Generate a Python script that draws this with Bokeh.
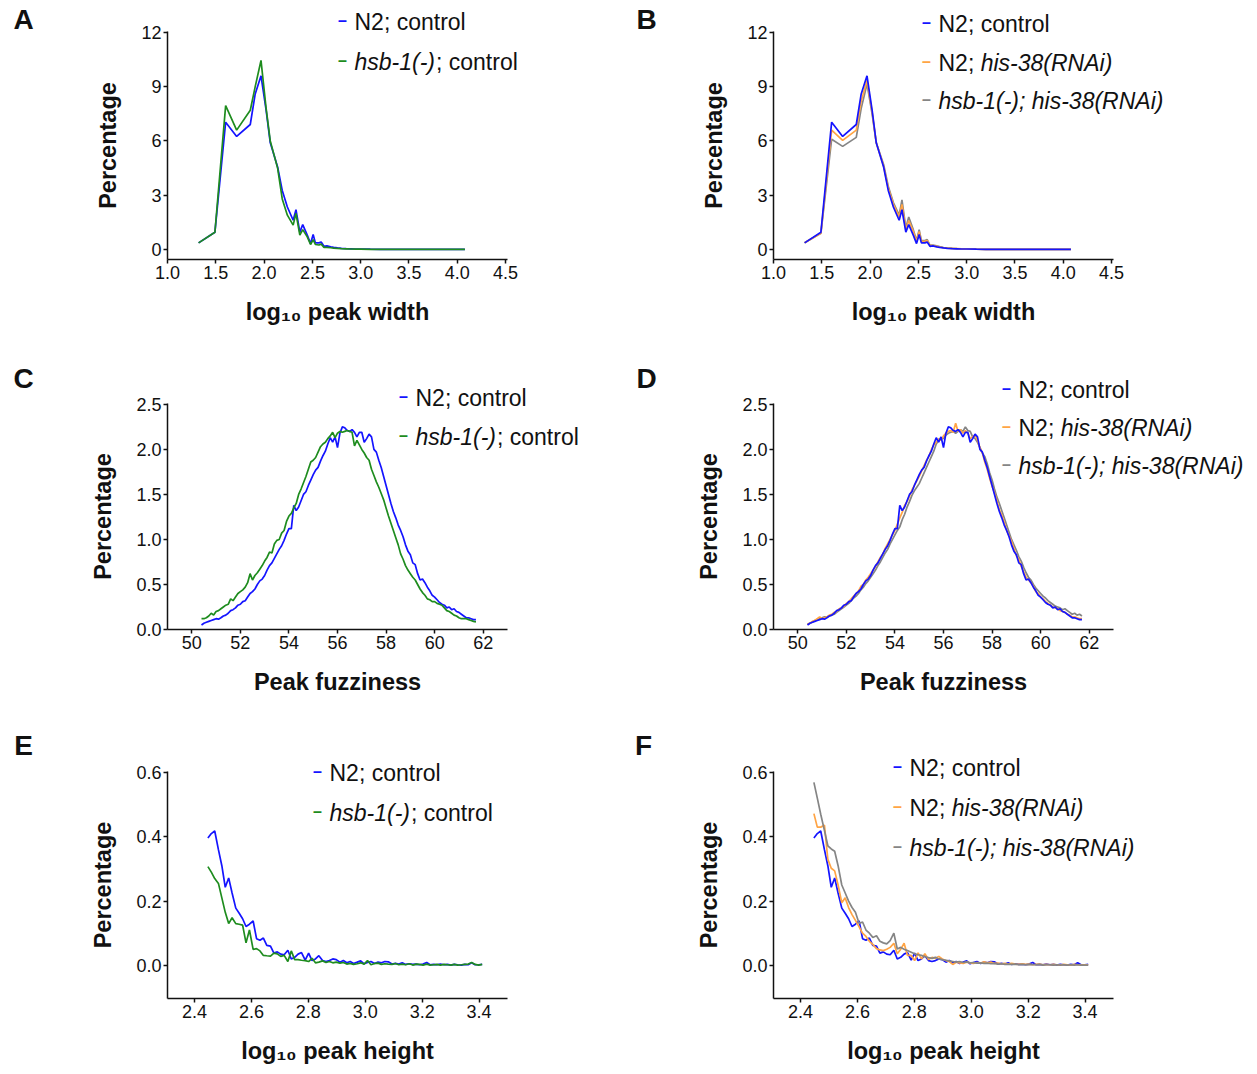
from bokeh.plotting import figure
from bokeh.models import Label, FixedTicker, Range1d, PrintfTickFormatter
from bokeh.layouts import column, row
from bokeh.embed import file_html
from bokeh.resources import INLINE

FONT = "Liberation Sans"
BLUE = "#1414ff"
GREEN = "#1e8c1e"
ORANGE = "#ffa445"
GRAY = "#858585"

# ---------------- data: peak width (A, B) ----------------
XW = [1.322, 1.491, 1.602, 1.716, 1.857, 1.908, 1.968, 2.021, 2.064, 2.140,
      2.188, 2.241, 2.301, 2.330, 2.370, 2.400, 2.447, 2.481, 2.508, 2.531,
      2.568, 2.591, 2.620, 2.650, 2.690, 2.720, 2.760, 2.800, 2.850, 2.900,
      2.950, 3.000, 3.100, 3.200, 3.300, 3.400, 3.500, 3.600, 3.700, 3.800,
      3.900, 4.000, 4.079]
W_N2_CTRL = [0.37, 0.96, 7.04, 6.25, 6.91, 8.60, 9.60, 7.70, 5.90, 4.56,
             3.27, 2.35, 1.62, 2.20, 0.96, 1.38, 0.80, 0.33, 0.83, 0.37,
             0.37, 0.42, 0.18, 0.20, 0.15, 0.12, 0.09, 0.07, 0.05, 0.04,
             0.03, 0.03, 0.02, 0.015, 0.01, 0.01, 0.01, 0.005, 0.005, 0.005,
             0.005, 0.005, 0.005]
W_HSB_CTRL = [0.37, 0.96, 7.95, 6.60, 7.70, 9.00, 10.45, 7.80, 6.00, 4.50,
              2.80, 1.90, 1.35, 2.00, 0.80, 1.10, 0.70, 0.28, 0.55, 0.28,
              0.25, 0.30, 0.12, 0.12, 0.10, 0.08, 0.06, 0.05, 0.04, 0.03,
              0.02, 0.02, 0.015, 0.01, 0.01, 0.005, 0.005, 0.005, 0.005, 0.005,
              0.005, 0.005, 0.005]
W_N2_RNAI = [0.37, 0.90, 6.60, 6.03, 6.60, 8.20, 9.35, 7.60, 5.90, 4.60,
             3.40, 2.50, 1.80, 2.50, 1.10, 1.60, 1.00, 0.45, 1.00, 0.45,
             0.45, 0.50, 0.22, 0.22, 0.18, 0.14, 0.10, 0.08, 0.06, 0.05,
             0.04, 0.03, 0.02, 0.015, 0.01, 0.01, 0.01, 0.005, 0.005, 0.005,
             0.005, 0.005, 0.005]
W_HSB_RNAI = [0.37, 0.90, 6.10, 5.70, 6.20, 7.80, 9.15, 7.50, 5.90, 4.70,
              3.50, 2.60, 1.90, 2.75, 1.20, 1.80, 1.10, 0.50, 1.10, 0.50,
              0.50, 0.55, 0.25, 0.25, 0.20, 0.16, 0.11, 0.09, 0.07, 0.05,
              0.04, 0.03, 0.02, 0.015, 0.01, 0.01, 0.01, 0.005, 0.005, 0.005,
              0.005, 0.005, 0.005]

# ---------------- data: peak fuzziness (C, D) ----------------
XF = [50.4, 50.5, 50.6, 50.7, 50.8, 50.9, 51.0, 51.1, 51.2, 51.3,
      51.4, 51.5, 51.6, 51.7, 51.8, 51.9, 52.0, 52.1, 52.2, 52.3,
      52.4, 52.5, 52.6, 52.7, 52.8, 52.9, 53.0, 53.1, 53.2, 53.3,
      53.4, 53.5, 53.6, 53.7, 53.8, 53.9, 54.0, 54.1, 54.2, 54.3,
      54.4, 54.5, 54.6, 54.7, 54.8, 54.9, 55.0, 55.1, 55.2, 55.3,
      55.4, 55.5, 55.6, 55.7, 55.8, 55.9, 56.0, 56.1, 56.2, 56.3,
      56.4, 56.5, 56.6, 56.7, 56.8, 56.9, 57.0, 57.1, 57.2, 57.3,
      57.4, 57.5, 57.6, 57.7, 57.8, 57.9, 58.0, 58.1, 58.2, 58.3,
      58.4, 58.5, 58.6, 58.7, 58.8, 58.9, 59.0, 59.1, 59.2, 59.3,
      59.4, 59.5, 59.6, 59.7, 59.8, 59.9, 60.0, 60.1, 60.2, 60.3,
      60.4, 60.5, 60.6, 60.7, 60.8, 60.9, 61.0, 61.1, 61.2, 61.3,
      61.4, 61.5, 61.6, 61.7]
F_N2_CTRL = [0.05, 0.07, 0.08, 0.09, 0.10, 0.11, 0.12, 0.115, 0.13, 0.15,
             0.16, 0.18, 0.21, 0.22, 0.24, 0.27, 0.28, 0.31, 0.32, 0.36,
             0.40, 0.42, 0.45, 0.50, 0.54, 0.56, 0.60, 0.66, 0.71, 0.74,
             0.79, 0.84, 0.89, 0.93, 0.99, 1.06, 1.12, 1.12, 1.38, 1.32,
             1.36, 1.43, 1.50, 1.53, 1.60, 1.66, 1.72, 1.77, 1.80, 1.87,
             1.93, 1.98, 2.06, 2.13, 2.08, 2.14, 2.02, 2.18, 2.25, 2.24,
             2.21, 2.20, 2.22, 2.19, 2.14, 2.19, 2.19, 2.08, 2.12, 2.17,
             2.14, 2.00, 1.97, 1.88, 1.80, 1.70, 1.60, 1.50, 1.40, 1.31,
             1.24, 1.16, 1.10, 1.03, 0.94, 0.87, 0.83, 0.74, 0.72, 0.62,
             0.55, 0.56, 0.52, 0.47, 0.43, 0.38, 0.36, 0.33, 0.30, 0.28,
             0.27, 0.24, 0.25, 0.22, 0.23, 0.20, 0.19, 0.17, 0.15, 0.13,
             0.13, 0.12, 0.11, 0.11]
F_HSB_CTRL = [0.12, 0.12, 0.13, 0.15, 0.18, 0.16, 0.20, 0.21, 0.23, 0.25,
              0.27, 0.28, 0.34, 0.32, 0.36, 0.40, 0.42, 0.44, 0.47, 0.52,
              0.62, 0.55, 0.60, 0.63, 0.67, 0.71, 0.76, 0.80, 0.86, 0.85,
              0.95, 0.99, 1.00, 1.07, 1.10, 1.20, 1.26, 1.29, 1.35, 1.40,
              1.50, 1.56, 1.63, 1.70, 1.78, 1.86, 1.88, 1.91, 1.97, 2.03,
              2.06, 2.08, 2.12, 2.15, 2.19, 2.13, 2.18, 2.20, 2.19, 2.20,
              2.21, 2.20, 2.19, 2.04, 2.10, 2.05, 2.00, 1.96, 1.91, 1.88,
              1.78, 1.71, 1.64, 1.58, 1.51, 1.44, 1.35, 1.26, 1.18, 1.10,
              1.02, 0.94, 0.84, 0.78, 0.71, 0.66, 0.62, 0.58, 0.55, 0.50,
              0.45, 0.41, 0.38, 0.34, 0.33, 0.31, 0.31, 0.29, 0.28, 0.27,
              0.24, 0.21, 0.20, 0.18, 0.16, 0.15, 0.13, 0.12, 0.12, 0.12,
              0.11, 0.10, 0.09, 0.085]
F_N2_RNAI = [0.06, 0.07, 0.09, 0.10, 0.12, 0.14, 0.12, 0.13, 0.14, 0.16,
             0.17, 0.19, 0.20, 0.23, 0.24, 0.26, 0.29, 0.31, 0.34, 0.37,
             0.40, 0.43, 0.48, 0.50, 0.55, 0.58, 0.62, 0.66, 0.70, 0.75,
             0.80, 0.84, 0.90, 0.95, 1.00, 1.05, 1.10, 1.17, 1.24, 1.30,
             1.38, 1.42, 1.48, 1.55, 1.60, 1.65, 1.70, 1.76, 1.82, 1.88,
             1.92, 2.00, 2.05, 2.08, 2.12, 2.10, 2.15, 2.18, 2.20, 2.21,
             2.19, 2.29, 2.20, 2.22, 2.18, 2.21, 2.18, 2.12, 2.14, 2.16,
             2.10, 2.02, 1.96, 1.86, 1.78, 1.68, 1.59, 1.52, 1.43, 1.33,
             1.27, 1.19, 1.10, 1.04, 0.98, 0.90, 0.82, 0.78, 0.70, 0.64,
             0.58, 0.55, 0.52, 0.48, 0.42, 0.40, 0.36, 0.34, 0.31, 0.29,
             0.27, 0.25, 0.24, 0.23, 0.21, 0.20, 0.19, 0.17, 0.16, 0.14,
             0.14, 0.13, 0.12, 0.12]
F_HSB_RNAI = [0.06, 0.07, 0.08, 0.10, 0.11, 0.12, 0.13, 0.14, 0.14, 0.15,
              0.16, 0.17, 0.19, 0.21, 0.23, 0.25, 0.27, 0.29, 0.32, 0.35,
              0.37, 0.40, 0.44, 0.47, 0.51, 0.54, 0.58, 0.62, 0.66, 0.71,
              0.75, 0.80, 0.85, 0.89, 0.95, 1.00, 1.05, 1.10, 1.14, 1.22,
              1.28, 1.36, 1.42, 1.49, 1.54, 1.58, 1.62, 1.68, 1.74, 1.80,
              1.86, 1.92, 1.98, 2.06, 2.10, 2.13, 2.12, 2.16, 2.18, 2.19,
              2.20, 2.18, 2.20, 2.22, 2.20, 2.25, 2.21, 2.20, 2.14, 2.12,
              2.08, 2.02, 1.96, 1.92, 1.84, 1.74, 1.66, 1.56, 1.47, 1.40,
              1.32, 1.24, 1.16, 1.08, 1.00, 0.94, 0.88, 0.81, 0.76, 0.69,
              0.63, 0.58, 0.55, 0.50, 0.46, 0.43, 0.40, 0.37, 0.35, 0.32,
              0.30, 0.28, 0.26, 0.25, 0.24, 0.22, 0.23, 0.21, 0.19, 0.17,
              0.18, 0.16, 0.17, 0.15]

# ---------------- data: peak height (E, F) ----------------
XH = [2.447, 2.459, 2.471, 2.484, 2.496, 2.508, 2.520, 2.532, 2.545, 2.557,
      2.569, 2.581, 2.593, 2.606, 2.618, 2.630, 2.642, 2.654, 2.667, 2.679,
      2.691, 2.703, 2.715, 2.728, 2.740, 2.752, 2.764, 2.776, 2.789, 2.801,
      2.813, 2.825, 2.837, 2.850, 2.862, 2.874, 2.886, 2.898, 2.911, 2.923,
      2.935, 2.947, 2.959, 2.972, 2.984, 2.996, 3.008, 3.020, 3.033, 3.045,
      3.057, 3.069, 3.081, 3.094, 3.106, 3.118, 3.130, 3.142, 3.155, 3.167,
      3.179, 3.191, 3.203, 3.216, 3.228, 3.240, 3.252, 3.264, 3.277, 3.289,
      3.301, 3.313, 3.325, 3.338, 3.350, 3.362, 3.374, 3.386, 3.399, 3.411]
H_N2_CTRL = [0.396, 0.410, 0.418, 0.360, 0.310, 0.243, 0.272, 0.225, 0.178, 0.162,
             0.145, 0.121, 0.128, 0.138, 0.083, 0.078, 0.085, 0.062, 0.060, 0.038,
             0.042, 0.035, 0.033, 0.047, 0.020, 0.025, 0.035, 0.040, 0.016, 0.038,
             0.015, 0.020, 0.030, 0.015, 0.012, 0.015, 0.020, 0.018, 0.010, 0.015,
             0.008, 0.012, 0.006, 0.010, 0.014, 0.005, 0.009, 0.012, 0.006, 0.010,
             0.008, 0.012, 0.011, 0.004, 0.006, 0.004, 0.008, 0.003, 0.005, 0.003,
             0.004, 0.002, 0.004, 0.009, 0.002, 0.003, 0.002, 0.004, 0.002, 0.003,
             0.001, 0.003, 0.002, 0.001, 0.003, 0.002, 0.008, 0.002, 0.002, 0.003]
H_HSB_CTRL = [0.307, 0.290, 0.270, 0.255, 0.210, 0.165, 0.130, 0.148, 0.130, 0.128,
              0.125, 0.070, 0.110, 0.050, 0.052, 0.045, 0.031, 0.030, 0.029, 0.038,
              0.036, 0.028, 0.031, 0.012, 0.045, 0.018, 0.018, 0.016, 0.015, 0.012,
              0.022, 0.008, 0.010, 0.014, 0.009, 0.012, 0.008, 0.010, 0.007, 0.009,
              0.004, 0.006, 0.003, 0.005, 0.008, 0.004, 0.015, 0.002, 0.006, 0.007,
              0.003, 0.005, 0.004, 0.003, 0.006, 0.002, 0.004, 0.002, 0.005, 0.001,
              0.004, 0.003, 0.001, 0.004, 0.001, 0.002, 0.003, 0.001, 0.003, 0.002,
              0.001, 0.003, 0.001, 0.002, 0.003, 0.004, 0.009, 0.003, 0.001, 0.003]
H_N2_RNAI = [0.472, 0.430, 0.430, 0.436, 0.330, 0.302, 0.294, 0.250, 0.195, 0.210,
             0.180, 0.158, 0.140, 0.120, 0.100, 0.090, 0.075, 0.065, 0.052, 0.048,
             0.046, 0.050, 0.056, 0.069, 0.036, 0.050, 0.069, 0.031, 0.031, 0.015,
             0.039, 0.020, 0.036, 0.018, 0.025, 0.022, 0.028, 0.020, 0.015, 0.012,
             0.003, 0.010, 0.008, 0.006, 0.010, 0.008, 0.006, 0.009, 0.007, 0.011,
             0.008, 0.010, 0.006, 0.007, 0.005, 0.006, 0.004, 0.006, 0.004, 0.003,
             0.005, 0.003, 0.004, 0.002, 0.003, 0.004, 0.002, 0.003, 0.002, 0.003,
             0.002, 0.001, 0.003, 0.002, 0.001, 0.003, 0.002, 0.001, 0.002, 0.002]
H_HSB_RNAI = [0.569, 0.520, 0.470, 0.420, 0.372, 0.362, 0.355, 0.310, 0.250, 0.225,
              0.200, 0.180, 0.165, 0.130, 0.135, 0.110, 0.100, 0.087, 0.092, 0.075,
              0.070, 0.067, 0.077, 0.100, 0.051, 0.056, 0.050, 0.046, 0.041, 0.036,
              0.033, 0.031, 0.027, 0.024, 0.022, 0.025, 0.020, 0.018, 0.016, 0.014,
              0.012, 0.010, 0.012, 0.009, 0.011, 0.008, 0.009, 0.007, 0.008, 0.006,
              0.007, 0.005, 0.006, 0.004, 0.005, 0.003, 0.004, 0.003, 0.004, 0.002,
              0.003, 0.002, 0.003, 0.002, 0.002, 0.003, 0.001, 0.002, 0.002, 0.001,
              0.002, 0.001, 0.002, 0.001, 0.002, 0.001, 0.002, 0.001, 0.001, 0.001]

# ---------------- ticks ----------------
TICKS_XW = [1.0, 1.5, 2.0, 2.5, 3.0, 3.5, 4.0, 4.5]
TICKS_YW = [0, 3, 6, 9, 12]
TICKS_XF = [50, 52, 54, 56, 58, 60, 62]
TICKS_YF = [0.0, 0.5, 1.0, 1.5, 2.0, 2.5]
TICKS_XH = [2.4, 2.6, 2.8, 3.0, 3.2, 3.4]
TICKS_YH = [0.0, 0.2, 0.4, 0.6]

# Arial / Liberation Sans advance widths (per 1000 em)
CW = {"N": 722, "2": 556, ";": 278, " ": 278, "c": 500, "o": 556, "n": 556, "t": 278,
      "r": 333, "l": 222, "h": 556, "s": 500, "b": 556, "-": 333, "1": 556, "(": 333,
      ")": 333, "i": 222, "3": 556, "8": 556, "R": 722, "A": 667}
LEG_SIZE = 23


def text_w(s, size=LEG_SIZE):
    return sum(CW.get(ch, 556) for ch in s) * size / 1000.0


def make_fig(W, H, box, xb, yb, xticks, yticks, xlabel, xfmt, yfmt):
    """box = (left, right, top, bottom) pixel edges of the axes area inside the canvas;
    xb / yb = data bounds of the axes.  The frame covers the whole canvas so that
    annotations placed outside the axes area are not clipped."""
    left, right, top, bottom = box
    sx = (right - left) / (xb[1] - xb[0])
    sy = (bottom - top) / (yb[1] - yb[0])
    xr = (xb[0] - left / sx, xb[0] + (W - left) / sx)
    yr = (yb[0] - (H - bottom) / sy, yb[0] + bottom / sy)
    p = figure(width=W, height=H, x_range=Range1d(*xr), y_range=Range1d(*yr),
               output_backend="svg", toolbar_location=None, title=None,
               min_border=0, min_border_left=0, min_border_right=0,
               min_border_top=0, min_border_bottom=0)
    p.outline_line_color = None
    p.grid.visible = False
    p.background_fill_color = "white"
    p.border_fill_color = "white"
    for ax in (p.xaxis[0], p.yaxis[0]):
        ax.axis_line_width = 1.5
        ax.axis_line_color = "#111111"
        ax.major_tick_line_width = 1.5
        ax.major_tick_line_color = "#111111"
        ax.major_tick_in = 0
        ax.major_tick_out = 4
        ax.minor_tick_line_color = None
        ax.major_label_standoff = 2
        ax.major_label_text_font = FONT
        ax.major_label_text_font_size = "18px"
        ax.major_label_text_color = "#111111"
        ax.axis_label_text_font = FONT
        ax.axis_label_text_font_size = "23.5px"
        ax.axis_label_text_font_style = "bold"
        ax.axis_label_text_color = "#111111"
        ax.axis_label_standoff = 17
    xa, ya = p.xaxis[0], p.yaxis[0]
    xa.ticker = FixedTicker(ticks=xticks)
    ya.ticker = FixedTicker(ticks=yticks)
    xa.formatter = xfmt
    ya.formatter = yfmt
    xa.bounds = xb
    ya.bounds = yb
    xa.fixed_location = yb[0]
    ya.fixed_location = xb[0]
    xa.axis_label = xlabel
    ya.axis_label = "Percentage"
    return p


def add_legend(p, H, x_text, entries):
    for color, y, parts in entries:
        p.add_layout(Label(x=x_text - 12, y=H - y + 1,
                           x_units="screen", y_units="screen", text="–",
                           text_color=color, text_font=FONT, text_font_size="16px",
                           text_font_style="bold", text_align="center",
                           text_baseline="middle"))
        x = x_text
        for txt, italic in parts:
            p.add_layout(Label(x=x, y=H - y,
                               x_units="screen", y_units="screen", text=txt,
                               text_color="#111111", text_font=FONT,
                               text_font_size=f"{LEG_SIZE}px",
                               text_font_style="italic" if italic else "normal",
                               text_align="left", text_baseline="middle"))
            x += text_w(txt) + (1 if italic else 0)


def add_letter(p, H, letter, x, y):
    p.add_layout(Label(x=x, y=H - y, x_units="screen",
                       y_units="screen", text=letter, text_color="#111111",
                       text_font=FONT, text_font_size="28px", text_font_style="bold",
                       text_align="center", text_baseline="middle"))


LW = 1.7
COL_W = (620, 637)
COL_X = ((167, 507), (153, 493))          # axes-area left/right inside each column
ROW_H = (360, 367, 345)
ROW_Y = ((31, 259), (43, 269), (44, 271))  # axes-area top/bottom inside each row

XLAB_W = "log\u2081\u2080 peak width"
XLAB_F = "Peak fuzziness"
XLAB_H = "log\u2081\u2080 peak height"

specs = [
    ((1.0, 4.52), (-0.55, 12.05), TICKS_XW, TICKS_YW, XLAB_W, "%.1f", "%d"),
    ((49.0, 63.0), (0.0, 2.51), TICKS_XF, TICKS_YF, XLAB_F, "%d", "%.1f"),
    ((2.305, 3.5), (-0.103, 0.603), TICKS_XH, TICKS_YH, XLAB_H, "%.1f", "%.1f"),
]
grid = []
for r in range(3):
    xb, yb, xt, yt, xl, xf, yf = specs[r]
    pair = []
    for c in range(2):
        box = (COL_X[c][0], COL_X[c][1], ROW_Y[r][0], ROW_Y[r][1])
        p = make_fig(COL_W[c], ROW_H[r], box, xb, yb, xt, yt, xl,
                     PrintfTickFormatter(format=xf), PrintfTickFormatter(format=yf))
        pair.append(p)
    grid.append(pair)

pA, pB = grid[0]
pC, pD = grid[1]
pE, pF = grid[2]

# A
pA.line(XW, W_N2_CTRL, color=BLUE, line_width=LW)
pA.line(XW, W_HSB_CTRL, color=GREEN, line_width=LW)
# B
pB.line(XW, W_HSB_RNAI, color=GRAY, line_width=LW)
pB.line(XW, W_N2_RNAI, color=ORANGE, line_width=LW)
pB.line(XW, W_N2_CTRL, color=BLUE, line_width=LW)
# C
pC.line(XF, F_N2_CTRL, color=BLUE, line_width=LW)
pC.line(XF, F_HSB_CTRL, color=GREEN, line_width=LW)
# D
pD.line(XF, F_HSB_RNAI, color=GRAY, line_width=LW)
pD.line(XF, F_N2_RNAI, color=ORANGE, line_width=LW)
pD.line(XF, F_N2_CTRL, color=BLUE, line_width=LW)
# E
pE.line(XH, H_N2_CTRL, color=BLUE, line_width=LW)
pE.line(XH, H_HSB_CTRL, color=GREEN, line_width=LW)
# F
pF.line(XH, H_N2_CTRL, color=BLUE, line_width=LW)
pF.line(XH, H_N2_RNAI, color=ORANGE, line_width=LW)
pF.line(XH, H_HSB_RNAI, color=GRAY, line_width=LW)

E_N2C = [("N2; control", False)]
E_HSBC = [("hsb-1(-)", True), ("; control", False)]
E_N2R = [("N2; ", False), ("his-38(RNAi)", True)]
E_HSBR = [("hsb-1(-); his-38(RNAi)", True)]

# legend positions in canvas pixels (x of text start, y of text middle)
add_legend(pA, ROW_H[0], 354, [(BLUE, 21, E_N2C), (GREEN, 61, E_HSBC)])
add_legend(pB, ROW_H[0], 318, [(BLUE, 23, E_N2C), (ORANGE, 62, E_N2R), (GRAY, 100, E_HSBR)])
add_legend(pC, ROW_H[1], 415, [(BLUE, 37, E_N2C), (GREEN, 76, E_HSBC)])
add_legend(pD, ROW_H[1], 398, [(BLUE, 29, E_N2C), (ORANGE, 67, E_N2R), (GRAY, 105, E_HSBR)])
add_legend(pE, ROW_H[2], 329, [(BLUE, 45, E_N2C), (GREEN, 85, E_HSBC)])
add_legend(pF, ROW_H[2], 289, [(BLUE, 40, E_N2C), (ORANGE, 80, E_N2R), (GRAY, 120, E_HSBR)])

add_letter(pA, ROW_H[0], "A", 23, 19)
add_letter(pB, ROW_H[0], "B", 26, 19)
add_letter(pC, ROW_H[1], "C", 23, 18)
add_letter(pD, ROW_H[1], "D", 26, 18)
add_letter(pE, ROW_H[2], "E", 23, 18)
add_letter(pF, ROW_H[2], "F", 23, 18)

layout = column(row(pA, pB), row(pC, pD), row(pE, pF))

with open("out.html", "w") as f:
    f.write(file_html(layout, INLINE))
